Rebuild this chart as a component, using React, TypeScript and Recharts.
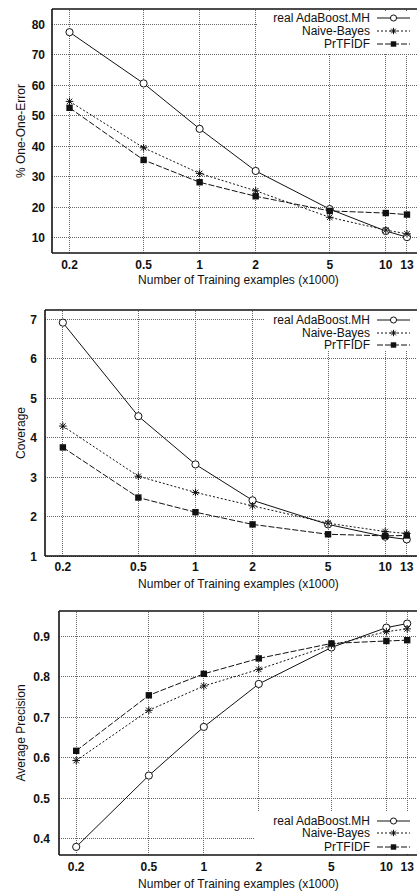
import React from 'react';
import { LineChart, Line, XAxis, YAxis, ReferenceLine, Legend } from 'recharts';

const trainingSizes = [0.2, 0.5, 1, 2, 5, 10, 13];
const xTickLabels = ['0.2', '0.5', '1', '2', '5', '10', '13'];
const seriesNames = ['real AdaBoost.MH', 'Naive-Bayes', 'PrTFIDF'];

const oneErrorAda = [77.4, 60.6, 45.7, 31.9, 19.4, 12.2, 10.2];
const oneErrorNB = [54.7, 39.5, 31.1, 25.4, 16.7, 12.5, 11.3];
const oneErrorPr = [52.6, 35.5, 28.2, 23.6, 18.8, 18.1, 17.6];
const oneErrorTicks = [10, 20, 30, 40, 50, 60, 70, 80];

const coverageAda = [6.91, 4.54, 3.32, 2.41, 1.8, 1.49, 1.42];
const coverageNB = [4.29, 3.02, 2.61, 2.27, 1.83, 1.62, 1.57];
const coveragePr = [3.75, 2.48, 2.11, 1.8, 1.55, 1.51, 1.52];
const coverageTicks = [1, 2, 3, 4, 5, 6, 7];

const precisionAda = [0.38, 0.556, 0.676, 0.782, 0.872, 0.921, 0.931];
const precisionNB = [0.593, 0.717, 0.777, 0.818, 0.878, 0.911, 0.918];
const precisionPr = [0.617, 0.754, 0.807, 0.845, 0.882, 0.888, 0.89];
const precisionTicks = [0.4, 0.5, 0.6, 0.7, 0.8, 0.9];

const X_DOMAIN: [number, number] = [0.161, 14.9];
const FONT = '"Liberation Sans", Arial, Helvetica, sans-serif';
const INK = '#111';
const GRID = '#666';

type Kind = 'circle' | 'star' | 'square';
const kinds: Kind[] = ['circle', 'star', 'square'];
const dashes = ['', '2 2', '6 2'];
const keys = ['ada', 'nb', 'pr'];

function buildRows(a: number[], b: number[], c: number[]) {
  return trainingSizes.map((x, i) => ({ x, ada: a[i], nb: b[i], pr: c[i] }));
}

function Marker({ cx, cy, kind, s = 1 }: { cx: number; cy: number; kind: Kind; s?: number }) {
  if (kind === 'circle') {
    return <circle cx={cx} cy={cy} r={3.6 * s} fill="#fff" stroke={INK} strokeWidth={1} />;
  }
  if (kind === 'square') {
    const h = 3.2 * s;
    return <rect x={cx - h} y={cy - h} width={2 * h} height={2 * h} fill={INK} />;
  }
  const r = 3.8 * s;
  const d = r * 0.72;
  return (
    <g stroke={INK} strokeWidth={1}>
      <line x1={cx} y1={cy - r} x2={cx} y2={cy + r} />
      <line x1={cx - r} y1={cy} x2={cx + r} y2={cy} />
      <line x1={cx - d} y1={cy - d} x2={cx + d} y2={cy + d} />
      <line x1={cx - d} y1={cy + d} x2={cx + d} y2={cy - d} />
    </g>
  );
}

function makeDot(kind: Kind) {
  return (props: any) => {
    const { cx, cy, index } = props;
    if (cx == null || cy == null) return <g key={`e-${kind}-${index}`} />;
    return <Marker key={`${kind}-${index}`} cx={cx} cy={cy} kind={kind} />;
  };
}

interface LegendBoxProps {
  width: number;
  height: number;
  rows: number[];
  textRight: number;
  sampleLeft: number;
}

function LegendBox({ width, height, rows, textRight, sampleLeft }: LegendBoxProps) {
  return (
    <div style={{ position: 'relative', width, height, background: '#fff', fontFamily: FONT, fontSize: 12, color: INK }}>
      {seriesNames.map((name, i) => (
        <React.Fragment key={name}>
          <div
            style={{
              position: 'absolute',
              right: width - textRight,
              top: rows[i] - 7,
              lineHeight: '14px',
              whiteSpace: 'nowrap',
            }}
          >
            {name}
          </div>
          <svg
            width={34}
            height={10}
            style={{ position: 'absolute', left: sampleLeft, top: rows[i] - 5, overflow: 'visible' }}
          >
            <line x1={0} y1={5} x2={33} y2={5} stroke={INK} strokeWidth={1} strokeDasharray={dashes[i] || undefined} />
            <Marker cx={16.5} cy={5} kind={kinds[i]} s={0.85} />
          </svg>
        </React.Fragment>
      ))}
    </div>
  );
}

interface PanelProps {
  top: number;
  height: number;
  plotLeft: number;
  plotTop: number;
  plotBottom: number;
  yDomain: [number, number];
  yTicks: number[];
  yTickGap: number;
  yFormat: (v: number) => string;
  yTitle: string;
  data: { x: number; ada: number; nb: number; pr: number }[];
  xLabelOffset: number;
  xTitleBaseline: number;
  legend: { left: number; top: number; width: number; height: number; rows: number[]; textRight: number; sampleLeft: number };
}

function Panel(p: PanelProps) {
  const width = 430;
  const xAxisHeight = p.height - p.plotBottom;
  const midY = (p.plotTop + p.plotBottom) / 2;

  const xTick = (props: any) => {
    const { x, y, payload, index } = props;
    const i = trainingSizes.indexOf(payload.value);
    return (
      <text
        key={`xt-${index}`}
        x={x}
        y={y + p.xLabelOffset}
        textAnchor="middle"
        fontFamily={FONT}
        fontSize={12}
        fontWeight="bold"
        fill={INK}
      >
        {i >= 0 ? xTickLabels[i] : String(payload.value)}
      </text>
    );
  };

  const yTick = (props: any) => {
    const { x, y, payload, index } = props;
    return (
      <text
        key={`yt-${index}`}
        x={x}
        y={y + 4.5}
        textAnchor="end"
        fontFamily={FONT}
        fontSize={12}
        fontWeight="bold"
        fill={INK}
      >
        {p.yFormat(payload.value)}
      </text>
    );
  };

  const yTitle = () => (
    <text
      x={21}
      y={midY}
      transform={`rotate(-90 21 ${midY})`}
      textAnchor="middle"
      dominantBaseline="central"
      fontFamily={FONT}
      fontSize={12}
      fill={INK}
    >
      {p.yTitle}
    </text>
  );

  const xTitle = () => (
    <text x={238.5} y={p.xTitleBaseline} textAnchor="middle" fontFamily={FONT} fontSize={12} fill={INK}>
      Number of Training examples (x1000)
    </text>
  );

  return (
    <div style={{ position: 'absolute', left: 0, top: p.top, width, height: p.height }}>
      <LineChart
        width={width}
        height={p.height}
        data={p.data}
        margin={{ top: p.plotTop, right: 12, left: 0, bottom: 0 }}
      >
        <XAxis
          dataKey="x"
          type="number"
          scale="log"
          domain={X_DOMAIN}
          ticks={trainingSizes}
          allowDataOverflow
          height={xAxisHeight}
          axisLine={{ stroke: INK, strokeWidth: 1.6 }}
          tickLine={false}
          tickSize={0}
          tickMargin={0}
          tick={xTick}
          interval={0}
          label={xTitle}
        />
        <YAxis
          type="number"
          domain={p.yDomain}
          ticks={p.yTicks}
          allowDataOverflow
          width={p.plotLeft}
          axisLine={{ stroke: INK, strokeWidth: 1.6 }}
          tickLine={false}
          tickSize={0}
          tickMargin={p.yTickGap}
          tick={yTick}
          interval={0}
          label={yTitle}
        />
        {trainingSizes.map((t) => (
          <ReferenceLine
            key={`gx-${t}`}
            x={t}
            stroke={GRID}
            strokeWidth={1}
            strokeDasharray="1 1"
            shapeRendering="crispEdges"
          />
        ))}
        {p.yTicks.map((t) => (
          <ReferenceLine
            key={`gy-${t}`}
            y={t}
            stroke={GRID}
            strokeWidth={1}
            strokeDasharray="1 1"
            shapeRendering="crispEdges"
          />
        ))}
        <ReferenceLine y={p.yDomain[1]} stroke={INK} strokeWidth={1.6} />
        {keys.map((k, i) => (
          <Line
            key={k}
            dataKey={k}
            name={seriesNames[i]}
            stroke={INK}
            strokeWidth={1}
            strokeDasharray={dashes[i] || undefined}
            dot={makeDot(kinds[i])}
            activeDot={false}
            isAnimationActive={false}
          />
        ))}
        <Legend
          layout="horizontal"
          verticalAlign="middle"
          align="center"
          wrapperStyle={{
            left: p.legend.left,
            top: p.legend.top,
            right: 'auto',
            bottom: 'auto',
            width: p.legend.width,
            height: p.legend.height,
            margin: 0,
            padding: 0,
          }}
          content={() => (
            <LegendBox
              width={p.legend.width}
              height={p.legend.height}
              rows={p.legend.rows}
              textRight={p.legend.textRight}
              sampleLeft={p.legend.sampleLeft}
            />
          )}
        />
      </LineChart>
    </div>
  );
}

export default function App() {
  return (
    <div style={{ position: 'absolute', left: 0, top: 0, width: 417, height: 894, overflow: 'hidden', background: '#fff' }}>
      <Panel
        top={0}
        height={295}
        plotLeft={52}
        plotTop={9}
        plotBottom={253}
        yDomain={[5, 85]}
        yTicks={oneErrorTicks}
        yTickGap={7}
        yFormat={(v) => String(v)}
        yTitle="% One-One-Error"
        data={buildRows(oneErrorAda, oneErrorNB, oneErrorPr)}
        xLabelOffset={16}
        xTitleBaseline={284}
        legend={{ left: 257, top: 10.5, width: 161, height: 42, rows: [7, 20, 33], textRight: 113, sampleLeft: 120 }}
      />
      <Panel
        top={300}
        height={295}
        plotLeft={45}
        plotTop={10}
        plotBottom={256}
        yDomain={[1, 7.23]}
        yTicks={coverageTicks}
        yTickGap={8}
        yFormat={(v) => String(v)}
        yTitle="Coverage"
        data={buildRows(coverageAda, coverageNB, coveragePr)}
        xLabelOffset={15}
        xTitleBaseline={288}
        legend={{ left: 265, top: 11, width: 153, height: 40, rows: [9, 21.5, 34], textRight: 105, sampleLeft: 112 }}
      />
      <Panel
        top={600}
        height={294}
        plotLeft={59}
        plotTop={11}
        plotBottom={255}
        yDomain={[0.36, 0.962]}
        yTicks={precisionTicks}
        yTickGap={9}
        yFormat={(v) => v.toFixed(1)}
        yTitle="Average Precision"
        data={buildRows(precisionAda, precisionNB, precisionPr)}
        xLabelOffset={16}
        xTitleBaseline={288}
        legend={{ left: 255, top: 212, width: 163, height: 41, rows: [8.7, 21.3, 34.7], textRight: 115, sampleLeft: 122 }}
      />
    </div>
  );
}
